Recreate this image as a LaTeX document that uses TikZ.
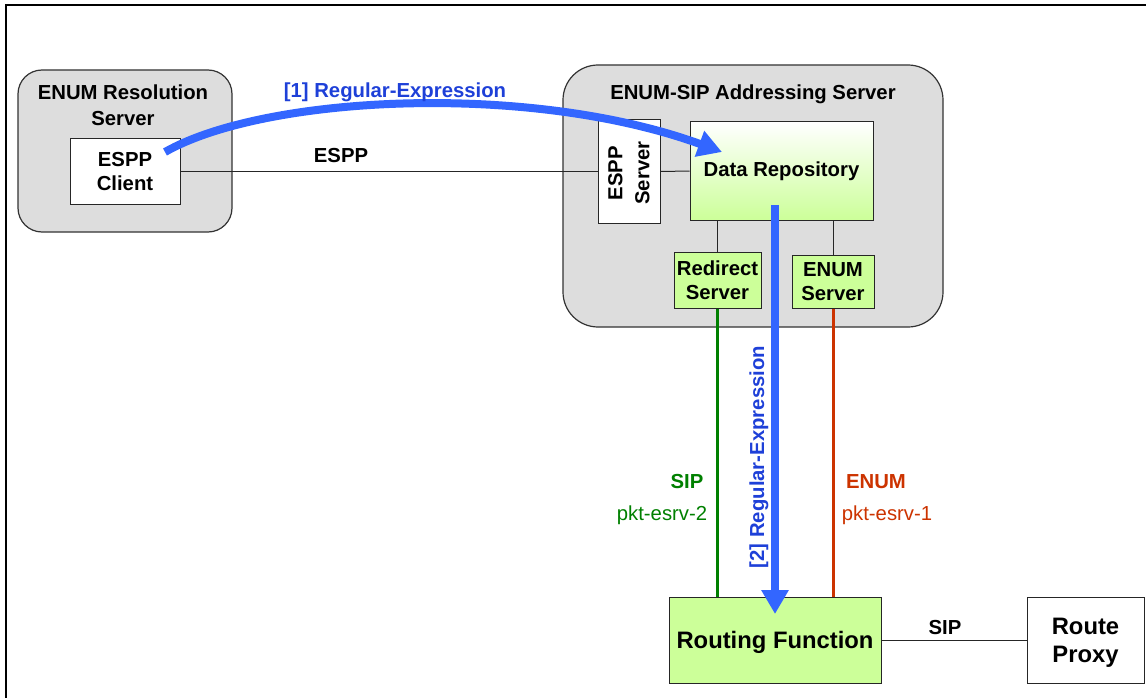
\documentclass[tikz,border=0pt]{standalone}
\usepackage{fontspec}
\setmainfont{Liberation Sans}
\usetikzlibrary{arrows.meta}

\definecolor{panelgray}{RGB}{221,221,221}
\definecolor{panelline}{RGB}{51,51,51}
\definecolor{leaf}{RGB}{204,255,153}
\definecolor{flowblue}{RGB}{51,102,255}
\definecolor{labelblue}{RGB}{30,64,216}
\definecolor{sipgreen}{RGB}{0,128,0}
\definecolor{enumred}{RGB}{204,51,0}

\begin{document}
\begin{tikzpicture}[x=1pt,y=-1pt,
  font=\bfseries\fontsize{20.3}{23.5}\selectfont,
  panel/.style={draw=panelline, line width=1.2pt, fill=panelgray,
                rounded corners=#1, inner sep=0pt},
  box/.style={draw=black!85, line width=1pt, align=center, inner sep=0pt},
  greenbox/.style={box, fill=leaf},
  link/.style={draw=black!85, line width=1pt},
  sipline/.style={draw=sipgreen, line width=3pt},
  enumline/.style={draw=enumred, line width=3pt},
  flow/.style={draw=flowblue, line width=8pt,
               -{Triangle[length=24pt,width=26pt]}},
  plain/.style={font=\fontsize{20.3}{23.5}\selectfont}
]
\useasboundingbox (0,0) rectangle (1146,698);

% outer frame
\draw[line width=1.6pt] (1146,5) -- (6,5) -- (6,698);

% ENUM Resolution Server
\node[panel=24pt, minimum width=214pt, minimum height=162pt] (res) at (125,151) {};
\node[align=center, font=\bfseries\fontsize{20.3}{25.5}\selectfont] (restitle) at (123,105) {ENUM Resolution\\Server};
\node[box, fill=white, minimum width=110pt, minimum height=66pt,
      font=\bfseries\fontsize{20.3}{24}\selectfont] (client) at (125,171.5) {ESPP\\Client};

% ENUM-SIP Addressing Server
\node[panel=35pt, minimum width=380pt, minimum height=262pt] (ess) at (753,196) {};
\node (esstitle) at (753,94) {ENUM-SIP Addressing Server};

\node[box, fill=white, minimum width=62pt, minimum height=103pt] (espps) at (629,171.5) {};
\node[rotate=90, align=center, font=\bfseries\fontsize{20.3}{27}\selectfont] (esppstext) at (629,173) {ESPP\\Server};

\node[box, top color=white, bottom color=leaf, minimum width=183pt, minimum height=98pt] (dr) at (781.5,171) {Data Repository};

\node[greenbox, minimum width=87pt, minimum height=56pt] (redirect) at (717.5,280) {Redirect\\Server};
\node[greenbox, minimum width=82pt, minimum height=53pt] (enumsrv) at (833,281.5) {ENUM\\Server};

% Routing Function and Route Proxy
\node[greenbox, minimum width=212pt, minimum height=86pt, text depth=0pt,
      font=\bfseries\fontsize{23.8}{28}\selectfont] (rf) at (775,640) {Routing Function};
\node[box, fill=white, minimum width=117pt, minimum height=86pt, text depth=0pt,
      font=\bfseries\fontsize{23.8}{28}\selectfont] (rp) at (1085.5,640) {Route\\Proxy};

% ESPP link
\draw[link] (client.east) -- (espps.west);
\draw[link] (espps.east) -- (dr.west);
\node (espplabel) at (341,156) {ESPP};

% internal links
\draw[link] (redirect.north) -- (redirect.north |- dr.south);
\draw[link] (enumsrv.north) -- (enumsrv.north |- dr.south);

% SIP and ENUM interfaces
\draw[sipline] (redirect.south) -- (redirect.south |- rf.north);
\draw[enumline] (enumsrv.south) -- (enumsrv.south |- rf.north);
\node[text=sipgreen] (siplabel) at (687,482) {SIP};
\node[plain, text=sipgreen] (sipport) at (662,515) {pkt-esrv-2};
\node[text=enumred] (enumlabel) at (876,482) {ENUM};
\node[plain, text=enumred] (enumport) at (887,515) {pkt-esrv-1};

% RF to Route Proxy
\draw[link] (rf.east) -- (rp.west);
\node (rpsip) at (945,628) {SIP};

% regular-expression flows
\coordinate (clienttap) at (165,152);
\coordinate (drhit) at (722,152);
\draw[flow] (clienttap) .. controls (265,95) and (530,82) .. (drhit);
\node[text=labelblue] (flowone) at (395,92) {[1] Regular-Expression};

\coordinate (drtap) at (775,205);
\coordinate (rfhit) at (775,614);
\draw[flow] (drtap) -- (rfhit);
\node[rotate=90, text=labelblue] (flowtwo) at (759,457) {[2] Regular-Expression};
\end{tikzpicture}
\end{document}
